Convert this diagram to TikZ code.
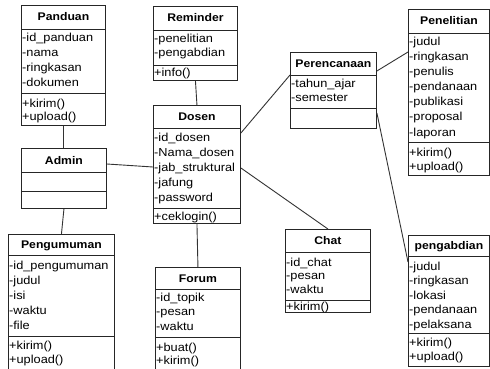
\documentclass[tikz,border=0pt]{standalone}
\usepackage{fontspec}
\setmainfont[FakeStretch=1.1]{Liberation Sans}
\usetikzlibrary{calc}
\tikzset{
  classbox/.style={draw=black!85, line width=0.9pt, rectangle, inner sep=0pt, anchor=north west},
  classline/.style={draw=black!85, line width=0.9pt},
  conn/.style={draw=black!80, line width=0.9pt},
  titletext/.style={inner sep=0pt, text height=8pt, text depth=0pt, font=\fontsize{11.1}{13}\selectfont\bfseries},
  attrtext/.style={anchor=west, xshift=1pt, inner sep=0pt, text height=8pt, text depth=0pt, font=\fontsize{11.6}{13}\selectfont}
}
\newcommand\umlbox[8]{%
  \node[classbox, minimum width={#5-#3}, minimum height={#6-#4}] (#1) at (#3,#4) {};
  \draw[classline] (#1.west |- 0,#7) -- (#1.east |- 0,#7);
  \draw[classline] (#1.west |- 0,#8) -- (#1.east |- 0,#8);
  \node[titletext] (#1-title) at ($(#1.north)!0.5!(#1.north |- 0,#7)$) {#2};
}
\newcommand\umllines[5]{%
  \foreach \t [count=\i] in {#5} {
    \pgfmathsetmacro\yy{#3+#4*(\i-1)}
    \node[attrtext] (#1-#2\i) at (#1.west |- 0,\yy) {\t};
  }
}
\begin{document}
\begin{tikzpicture}[x=1pt, y=-1pt]
\clip (0,0) rectangle (490,369);
\fill[white] (0,0) rectangle (490,369);

% Panduan
\umlbox{panduan}{Panduan}{21}{5}{105}{125}{29}{93}
\umllines{panduan}{a}{38}{15}{-id\_panduan,-nama,-ringkasan,-dokumen}
\umllines{panduan}{m}{103}{14}{+kirim(),+upload()}

% Admin
\umlbox{admin}{Admin}{21}{148}{106}{208}{172}{191}

% Reminder
\umlbox{reminder}{Reminder}{153}{6}{237}{80}{30}{65}
\umllines{reminder}{a}{39}{14}{-penelitian,-pengabdian}
\umllines{reminder}{m}{73}{14}{+info()}

% Dosen
\umlbox{dosen}{Dosen}{153}{105}{240}{223}{128}{208}
\umllines{dosen}{a}{137}{15}{-id\_dosen,-Nama\_dosen,-jab\_struktural,-jafung,-password}
\umllines{dosen}{m}{216}{14}{+ceklogin()}

% Pengumuman
\umlbox{pengumuman}{Pengumuman}{8}{234}{114}{380}{255}{336}
\umllines{pengumuman}{a}{265}{15}{-id\_pengumuman,-judul,-isi,-waktu,-file}
\umllines{pengumuman}{m}{345}{14}{+kirim(),+upload()}

% Forum
\umlbox{forum}{Forum}{155}{267}{240}{380}{289}{337}
\umllines{forum}{a}{297}{14.5}{-id\_topik,-pesan,-waktu}
\umllines{forum}{m}{347}{13.5}{+buat(),+kirim()}

% Chat
\umlbox{chat}{Chat}{285}{229}{370}{312}{252}{300}
\umllines{chat}{a}{262}{13.5}{-id\_chat,-pesan,-waktu}
\umllines{chat}{m}{306}{14}{+kirim()}

% Perencanaan
\umlbox{perencanaan}{Perencanaan}{290}{52}{376}{128}{75}{108}
\umllines{perencanaan}{a}{84}{14}{-tahun\_ajar,-semester}

% Penelitian
\umlbox{penelitian}{Penelitian}{408}{9}{489}{175}{33}{142}
\umllines{penelitian}{a}{42}{15}{-judul,-ringkasan,-penulis,-pendanaan,-publikasi,-proposal,-laporan}
\umllines{penelitian}{m}{152}{14}{+kirim(),+upload()}

% pengabdian
\umlbox{pengabdian}{pengabdian}{408}{235}{489}{366}{256}{333}
\umllines{pengabdian}{a}{266}{14.5}{-judul,-ringkasan,-lokasi,-pendanaan,-pelaksana}
\umllines{pengabdian}{m}{342}{14}{+kirim(),+upload()}

% connectors
\draw[conn] (panduan.south) -- (panduan.south |- admin.north);
\draw[conn] (admin.east |- 0,164) -- (dosen.west |- 0,167);
\draw[conn] (admin.south) -- (pengumuman.north);
\draw[conn] (reminder.south) -- (dosen.north);
\draw[conn] (dosen.south) -- (forum.north);
\draw[conn] (dosen.east |- 0,133) -- (perencanaan.west |- 0,75);
\draw[conn] (dosen.east |- 0,168) -- (chat.north);
\draw[conn] (perencanaan.east |- 0,71) -- (penelitian.west |- 0,52);
\draw[conn] (perencanaan.east |- 0,113) -- (pengabdian.west |- 0,262);
\end{tikzpicture}
\end{document}
